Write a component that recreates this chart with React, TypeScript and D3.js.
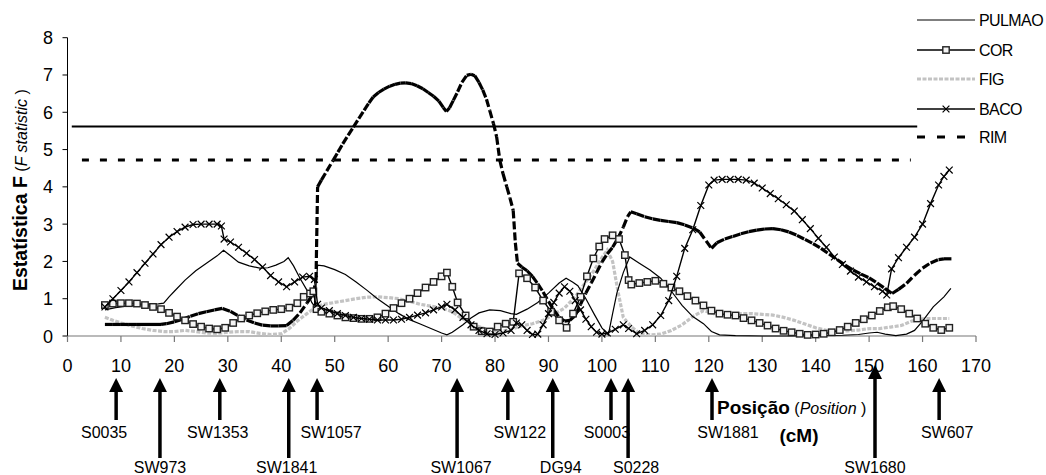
import React from 'react';
import * as d3 from 'd3';

// ---------- data ----------
const xTicks = d3.range(0, 171, 10);
const yTicks = d3.range(0, 9, 1);

const seriesNames = ['PULMAO', 'COR', 'FIG', 'BACO', 'RIM'];

const pulmaoThreshold = 5.62;
const pulmaoThresholdRange = [0.8, 159];
const rimThreshold = 4.72;
const rimThresholdRange = [2.7, 157.8];

const pulmaoData: [number, number][] = [
  [7, 0.7], [9, 0.76], [11, 0.8], [13, 0.83], [15, 0.85], [17, 0.86], [18, 0.88], [19, 1.05], [20, 1.2],
  [22, 1.5], [24, 1.75], [26, 1.95], [28, 2.15], [29.2, 2.3], [30.5, 2.15], [32, 1.98], [34, 1.88],
  [36, 1.82], [37.5, 1.83], [39, 1.9], [40.5, 2.0], [41.3, 2.1], [42.3, 1.88], [43.5, 1.55], [44.8, 1.23],
  [45.7, 0.9], [46.2, 0.8], [46.8, 1.9], [48, 1.88], [50, 1.78], [52, 1.65], [54, 1.45], [56, 1.23],
  [58, 1.0], [60, 0.8], [62, 0.6], [64, 0.44], [66, 0.32], [68, 0.2], [70, 0.08], [71, 0.03], [72, 0.1],
  [74, 0.3], [75.5, 0.48], [77, 0.62], [79, 0.7], [81, 0.68], [83, 0.6], [84, 0.58], [86, 0.72],
  [88, 0.9], [90, 1.15], [92, 1.42], [93.3, 1.55], [94.5, 1.45], [95.5, 1.35], [97, 1.0], [98.5, 0.6],
  [100, 0.22], [101.2, 0.03], [102, 0.6], [102.8, 1.15], [104, 1.7], [105.2, 2.12], [107, 1.95],
  [109, 1.77], [111, 1.55], [113, 1.2], [115, 0.82], [117, 0.52], [119, 0.33], [120.5, 0.12], [122, 0.03],
  [125, 0.01], [130, 0.0], [135, 0.0], [140, 0.01], [145, 0.02], [148, 0.04], [150, 0.08], [151.5, 0.1],
  [153, 0.05], [155, 0.01], [157, 0.05], [158.5, 0.15], [160, 0.4], [162, 0.78], [164, 1.05], [165.3, 1.28],
];

const corData: [number, number][] = [
  [7, 0.83], [8.5, 0.87], [10, 0.88], [11.5, 0.88], [13, 0.87], [14.5, 0.83], [16, 0.78], [17.5, 0.72],
  [19, 0.62], [20.5, 0.52], [22, 0.42], [23.5, 0.32], [25, 0.25], [26.5, 0.2], [28, 0.18], [29.5, 0.22],
  [31, 0.35], [32.5, 0.47], [34, 0.55], [35.5, 0.61], [37, 0.66], [38.5, 0.7], [40, 0.72], [41.5, 0.76],
  [43, 0.88], [44.2, 1.05], [45.4, 1.14], [46, 1.2], [46.6, 0.72], [47.5, 0.65], [49, 0.6], [50.5, 0.55],
  [52, 0.5], [53.5, 0.48], [55, 0.46], [56.5, 0.46], [58, 0.5], [59.5, 0.6], [61, 0.75], [62.5, 0.88],
  [64, 1.0], [65.5, 1.15], [67, 1.3], [68.5, 1.45], [70, 1.6], [71, 1.7], [72, 1.32], [73, 0.9],
  [74.5, 0.55], [76, 0.25], [77.5, 0.13], [79, 0.12], [80.5, 0.25], [82, 0.33], [83.4, 0.38],
  [84.5, 1.68], [86, 1.55], [87.5, 1.3], [89, 0.95], [90.5, 0.65], [92, 0.42], [93.4, 0.22], [94.6, 0.6],
  [96, 1.05], [97.2, 1.6], [98.4, 2.08], [99.5, 2.4], [100.5, 2.6], [102, 2.7], [103.2, 2.6],
  [104.3, 2.17], [105, 1.5], [105.5, 1.38], [107, 1.42], [108.5, 1.45], [110, 1.48], [111.5, 1.4],
  [113, 1.3], [114.5, 1.2], [116, 1.07], [117.5, 0.95], [119, 0.82], [120.5, 0.68], [122, 0.6],
  [123.5, 0.57], [125, 0.55], [126.5, 0.48], [128, 0.42], [129.5, 0.35], [131, 0.28], [132.5, 0.2],
  [134, 0.14], [135.5, 0.1], [137, 0.06], [138.5, 0.03], [140, 0.04], [141.5, 0.06], [143, 0.1],
  [144.5, 0.16], [146, 0.25], [147.5, 0.35], [149, 0.45], [150.5, 0.55], [152, 0.67], [153.5, 0.77],
  [154.5, 0.8], [156, 0.72], [157.5, 0.6], [159, 0.47], [160.5, 0.33], [162, 0.22], [163.5, 0.16],
  [165, 0.22],
];

const figData: [number, number][] = [
  [7, 0.5], [8.5, 0.42], [10, 0.35], [12, 0.27], [14, 0.2], [16, 0.15], [18, 0.12], [20, 0.12],
  [22, 0.15], [24, 0.12], [26, 0.08], [28, 0.07], [30, 0.1], [32, 0.12], [34, 0.12], [36, 0.07],
  [38, 0.04], [40, 0.06], [41.5, 0.2], [43, 0.4], [44.8, 0.6], [46.5, 0.78], [48, 0.85], [50, 0.9],
  [52, 0.95], [54, 1.0], [56, 1.04], [58, 1.05], [60, 1.03], [62, 1.0], [64, 0.93], [66, 0.85],
  [68, 0.8], [70, 0.75], [72, 0.65], [73.5, 0.5], [75, 0.38], [77, 0.25], [79, 0.15], [81, 0.12],
  [83, 0.18], [85, 0.27], [87, 0.33], [89, 0.42], [91, 0.58], [93, 0.75], [95, 1.05], [97, 1.45],
  [98.5, 1.75], [100, 2.1], [101, 2.3], [102, 2.0], [103, 1.2], [104, 0.5], [105.5, 0.25], [107, 0.07],
  [109, 0.03], [111, 0.05], [113, 0.15], [115, 0.3], [117, 0.52], [119, 0.68], [120.5, 0.62],
  [122, 0.55], [124, 0.55], [126, 0.6], [128, 0.6], [130, 0.58], [132, 0.56], [134, 0.5], [136, 0.42],
  [138, 0.32], [140, 0.22], [142, 0.15], [144, 0.12], [146, 0.14], [148, 0.16], [150, 0.2], [152, 0.2],
  [154, 0.24], [156, 0.28], [158, 0.4], [160, 0.46], [162, 0.47], [165, 0.47],
];

const bacoData: [number, number][] = [
  [7, 0.78], [8.5, 1.0], [10, 1.22], [11.5, 1.45], [13, 1.7], [14.5, 1.95], [16, 2.2], [17.5, 2.45],
  [19, 2.65], [20.5, 2.8], [22, 2.92], [23.5, 2.99], [25, 3.0], [26.5, 3.0], [28, 3.0], [28.8, 2.95],
  [29.3, 2.6], [30.5, 2.52], [32, 2.38], [33.5, 2.22], [35, 2.05], [36.5, 1.85], [38, 1.62], [39.5, 1.45],
  [41, 1.32], [42.5, 1.45], [44, 1.58], [45.3, 1.6], [46.2, 1.52], [46.8, 0.85], [47.5, 0.75], [49, 0.68],
  [50.5, 0.6], [52, 0.55], [53.5, 0.5], [55, 0.47], [56.5, 0.45], [58, 0.43], [59.5, 0.43], [61, 0.43],
  [62.5, 0.45], [64, 0.5], [65.5, 0.56], [67, 0.62], [68.5, 0.7], [70, 0.78], [71, 0.85], [72.5, 0.7],
  [74, 0.5], [75.5, 0.3], [77, 0.15], [78.5, 0.06], [80, 0.04], [81.5, 0.08], [83, 0.15], [84, 0.35],
  [85, 0.3], [86, 0.15], [87, 0.04], [88, 0.05], [89, 0.3], [90, 0.6], [91, 0.9], [92, 1.15], [93, 1.32],
  [94, 1.2], [95, 0.95], [96, 0.7], [97, 0.45], [98, 0.25], [99, 0.1], [100, 0.05], [101, 0.08],
  [102.5, 0.18], [104, 0.3], [105, 0.2], [106.5, 0.06], [108, 0.15], [109.5, 0.3], [111, 0.55],
  [112.5, 0.95], [114, 1.6], [115.5, 2.35], [117, 2.85], [118.5, 3.5], [120, 4.05], [121, 4.18],
  [122.5, 4.2], [124, 4.2], [125.5, 4.2], [127, 4.18], [128.5, 4.1], [130, 3.97], [131.5, 3.82],
  [133, 3.68], [134.5, 3.52], [136, 3.35], [137.5, 3.12], [139, 2.88], [140.5, 2.62], [142, 2.38],
  [143.5, 2.12], [145, 1.92], [146.5, 1.74], [148, 1.58], [149.5, 1.45], [151, 1.32], [152.5, 1.2],
  [153.3, 1.1], [154.2, 1.8], [155.5, 2.1], [157, 2.38], [158.5, 2.65], [160, 3.0], [161.5, 3.55],
  [163, 4.05], [164, 4.28], [165, 4.45],
];

const rimData: [number, number][] = [
  [7, 0.31], [8.5, 0.31], [10, 0.31], [11.5, 0.31], [13, 0.31], [14.5, 0.31], [16, 0.31], [17.5, 0.31],
  [18.5, 0.33], [20, 0.38], [21.5, 0.45], [23, 0.53], [24.5, 0.6], [26, 0.65], [27.5, 0.7], [29, 0.74],
  [30.5, 0.66], [32, 0.54], [33.5, 0.43], [35, 0.35], [36.5, 0.29], [38, 0.27], [39.5, 0.27], [41, 0.28],
  [42.2, 0.42], [43.5, 0.62], [44.8, 0.88], [46, 1.14], [46.5, 1.5], [46.8, 4.0], [47.5, 4.18],
  [48.5, 4.42], [49.7, 4.71], [50.6, 4.93], [51.5, 5.15], [52.5, 5.38], [53.5, 5.6], [54.5, 5.83],
  [55.5, 6.05], [56.4, 6.25], [57.2, 6.41], [58.2, 6.53], [59.2, 6.62], [60.3, 6.7], [61.3, 6.75],
  [62.3, 6.78], [63.3, 6.79], [64.3, 6.77], [65.4, 6.71], [66.5, 6.63], [67.5, 6.53], [68.5, 6.43],
  [69.5, 6.3], [70.3, 6.13], [70.9, 6.02], [71.5, 6.12], [72.2, 6.32], [73, 6.55], [73.8, 6.8],
  [74.7, 6.99], [75.5, 7.02], [76.2, 6.98], [77, 6.8], [77.7, 6.6], [78.4, 6.35], [79, 6.05], [79.7, 5.7],
  [80.3, 5.34], [80.9, 4.71], [81.5, 4.35], [82.2, 4.0], [82.8, 3.7], [83.4, 3.37], [83.8, 2.5],
  [84.2, 1.95], [85, 1.85], [86, 1.75], [87, 1.6], [88, 1.4], [89, 1.18], [90, 0.93], [91, 0.7], [92, 0.5],
  [93, 0.4], [94, 0.42], [95, 0.55], [96, 0.85], [97, 1.15], [98, 1.42], [99, 1.7], [100, 1.98],
  [101, 2.2], [102, 2.38], [103, 2.62], [104, 2.92], [104.8, 3.2], [105.4, 3.33], [106.5, 3.28],
  [108, 3.2], [109.5, 3.14], [111, 3.1], [112.5, 3.07], [114, 3.04], [115.5, 2.98], [117, 2.9],
  [118.3, 2.79], [119.5, 2.55], [120.5, 2.35], [121.5, 2.5], [123, 2.6], [124.5, 2.67], [126, 2.74],
  [127.5, 2.8], [129, 2.84], [130.5, 2.87], [132, 2.88], [133.5, 2.85], [135, 2.79], [136.5, 2.7],
  [138, 2.59], [139.5, 2.48], [141, 2.35], [142.5, 2.2], [144, 2.05], [145.5, 1.9], [147, 1.77],
  [148.5, 1.66], [150, 1.56], [151.5, 1.42], [153, 1.27], [154.3, 1.14], [155.5, 1.25], [157, 1.41],
  [158.5, 1.63], [160, 1.82], [161.5, 1.96], [163, 2.05], [164, 2.07], [165.4, 2.07],
];

const markerNames = ['S0035', 'SW973', 'SW1353', 'SW1841', 'SW1057', 'SW1067', 'SW122', 'DG94', 'S0003', 'S0228', 'SW1881', 'SW1680', 'SW607'];
const markerPos = [9.1, 17.3, 28.5, 41.4, 46.7, 72.9, 82.4, 90.8, 101.7, 104.9, 120.6, 151.1, 163.1];
const markerTier = [0, 1, 0, 1, 0, 1, 0, 1, 0, 1, 0, 1, 0];

// ---------- styles / layout ----------
const W = 1046;
const H = 475;
const FONT = '"Liberation Sans", Arial, Helvetica, sans-serif';
const labelDx = [-12, 0, -2, -2, 14, 4, 12, 8, -4, 8, 16, 0, 8];
const arrowTopDy = [0, 0, 0, 0, 0, 0, 0, 0, 0, 0, 0, -13, 0];

const x = d3.scaleLinear().domain([0, 170]).range([67.5, 976]);
const y = d3.scaleLinear().domain([0, 8]).range([336, 37.7]);

const lineGen = d3.line<[number, number]>().x(d => x(d[0])).y(d => y(d[1]));

function Square({ cx, cy }: { cx: number; cy: number }) {
  return <rect x={cx - 3.2} y={cy - 3.2} width={6.4} height={6.4} fill="#f4f4f4" stroke="#222" strokeWidth={1.4} />;
}
function Cross({ cx, cy }: { cx: number; cy: number }) {
  const s = 3.4;
  return (
    <path d={`M${cx - s},${cy - s}L${cx + s},${cy + s}M${cx - s},${cy + s}L${cx + s},${cy - s}`} stroke="#000" strokeWidth={1.2} fill="none" />
  );
}

export default function App() {
  const legendX1 = 917;
  const legendX2 = 975;
  const legendYs = [20, 50, 79, 109, 137];

  return (
    <svg width={W} height={H} style={{ position: 'absolute', left: 0, top: 0, background: '#fff' }} fontFamily={FONT}>
      <rect x={0} y={0} width={W} height={H} fill="#fff" />

      {/* axes */}
      <line x1={x(0)} x2={x(0)} y1={y(8)} y2={y(0)} stroke="#000" strokeWidth={1} />
      {yTicks.map(t => (
        <g key={'yt' + t}>
          <line x1={x(0) - 5} x2={x(0)} y1={y(t)} y2={y(t)} stroke="#000" />
          <text x={53} y={y(t) + 6.5} fontSize={18} textAnchor="end" fill="#000">{t}</text>
        </g>
      ))}
      <line x1={x(0)} x2={x(170)} y1={y(0)} y2={y(0)} stroke="#777" strokeWidth={1.2} />
      {xTicks.map(t => (
        <g key={'xt' + t}>
          <line x1={x(t)} x2={x(t)} y1={y(0)} y2={y(0) + 6} stroke="#777" strokeWidth={1.2} />
          <text x={x(t)} y={372} fontSize={18} textAnchor="middle" fill="#000">{t}</text>
        </g>
      ))}

      {/* threshold lines */}
      <line x1={x(pulmaoThresholdRange[0])} x2={x(pulmaoThresholdRange[1])} y1={y(pulmaoThreshold)} y2={y(pulmaoThreshold)} stroke="#000" strokeWidth={2} />
      <line x1={x(rimThresholdRange[0])} x2={x(rimThresholdRange[1])} y1={y(rimThreshold)} y2={y(rimThreshold)} stroke="#000" strokeWidth={3.2} strokeDasharray="7,11" />

      {/* FIG */}
      <path d={lineGen(figData) || ''} fill="none" stroke="#c3c3c3" strokeWidth={3.2} strokeDasharray="4,1.5" />

      {/* PULMAO */}
      <path d={lineGen(pulmaoData) || ''} fill="none" stroke="#000" strokeWidth={1.2} />

      {/* RIM (dash pattern restarts on each segment) */}
      {rimData.slice(1).map((p, i) => (
        <line key={'rim' + i} x1={x(rimData[i][0])} y1={y(rimData[i][1])} x2={x(p[0])} y2={y(p[1])} stroke="#000" strokeWidth={3.2} strokeDasharray="8,3" />
      ))}

      {/* COR */}
      <path d={lineGen(corData) || ''} fill="none" stroke="#000" strokeWidth={1.4} />
      {corData.map((d, i) => <Square key={'c' + i} cx={x(d[0])} cy={y(d[1])} />)}

      {/* BACO */}
      <path d={lineGen(bacoData) || ''} fill="none" stroke="#000" strokeWidth={1.4} />
      {bacoData.map((d, i) => <Cross key={'b' + i} cx={x(d[0])} cy={y(d[1])} />)}

      {/* legend */}
      {seriesNames.map((name, i) => {
        const ly = legendYs[i];
        let line: React.ReactNode;
        if (name === 'PULMAO') line = <line x1={legendX1} x2={legendX2} y1={ly} y2={ly} stroke="#000" strokeWidth={1.2} />;
        else if (name === 'COR') line = <g><line x1={legendX1} x2={legendX2} y1={ly} y2={ly} stroke="#000" strokeWidth={1.4} /><Square cx={946} cy={ly} /></g>;
        else if (name === 'FIG') line = <line x1={legendX1} x2={legendX2} y1={ly} y2={ly} stroke="#c3c3c3" strokeWidth={3.2} strokeDasharray="4,1.5" />;
        else if (name === 'BACO') line = <g><line x1={legendX1} x2={legendX2} y1={ly} y2={ly} stroke="#000" strokeWidth={1.4} /><Cross cx={946} cy={ly} /></g>;
        else line = <line x1={legendX1} x2={legendX2} y1={ly} y2={ly} stroke="#000" strokeWidth={3.2} strokeDasharray="8,12" />;
        return (
          <g key={name}>
            {line}
            <text x={979} y={ly + 6} fontSize={16} fill="#000" letterSpacing={-0.6}>{name}</text>
          </g>
        );
      })}

      {/* y-axis title */}
      <text transform="translate(27,291) rotate(-90)" fill="#000">
        <tspan fontSize={19.5} fontWeight="bold">Estatística F</tspan>
        <tspan fontSize={16}> (</tspan>
        <tspan fontSize={16} fontStyle="italic">F statistic</tspan>
        <tspan fontSize={16}> )</tspan>
      </text>

      {/* marker arrows */}
      {markerNames.map((name, i) => {
        const ax = x(markerPos[i]);
        const top = 378 + arrowTopDy[i];
        const bottom = markerTier[i] === 1 ? 458 : 420;
        const ly = markerTier[i] === 1 ? 473 : 438;
        return (
          <g key={name}>
            <line x1={ax} x2={ax} y1={top + 12} y2={bottom} stroke="#000" strokeWidth={3.5} />
            <path d={`M${ax},${top}L${ax + 7},${top + 14}L${ax - 7},${top + 14}Z`} fill="#000" />
            <text x={ax + labelDx[i]} y={ly} fontSize={16} textAnchor="middle" fill="#000">{name}</text>
          </g>
        );
      })}

      {/* x-axis title */}
      <text x={717} y={414} fill="#000">
        <tspan fontSize={19} fontWeight="bold">Posição</tspan>
        <tspan fontSize={16}> (</tspan>
        <tspan fontSize={16} fontStyle="italic">Position</tspan>
        <tspan fontSize={16}> )</tspan>
      </text>
      <text x={799} y={442} fontSize={19} fontWeight="bold" textAnchor="middle" fill="#000">(cM)</text>
    </svg>
  );
}
